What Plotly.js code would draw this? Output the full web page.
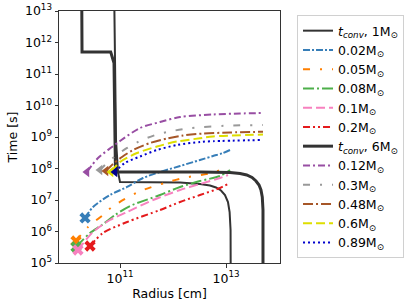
<!DOCTYPE html>
<html><head><meta charset="utf-8">
<script src="https://cdn.plot.ly/plotly-3.0.1.min.js"></script>
<style>html,body{margin:0;padding:0;background:#fff;}#chart{width:415px;height:306px;}</style>
</head><body><div id="chart"></div>
<script>
// t_conv curves
const conv1M_R = [7.71e10, 8.41e10, 9.17e10, 1.0e11, 1.36e12, 3.23e12, 4.99e12, 6.47e12, 8.05e12, 9.57e12, 1.09e13, 1.17e13, 1.22e13, 1.23e13];
const conv1M_t = [1e14, 8.03e8, 7.75e7, 3.73e7, 3.60e7, 3.22e7, 2.88e7, 2.50e7, 2.00e7, 1.44e7, 8.64e6, 4.16e6, 1.12e6, 1e4];
const conv6M_R = [1.89e10, 1.92e10, 6.68e10, 7.71e10, 8.05e10, 8.22e10, 3.23e12, 1.19e13, 1.84e13, 2.46e13, 3.10e13, 3.68e13, 4.20e13, 4.57e13, 4.84e13, 4.99e13, 4.99e13];
const conv6M_t = [1e14, 4.99e11, 4.99e11, 2.23e11, 8.03e8, 7.75e7, 7.75e7, 7.46e7, 6.93e7, 6.22e7, 5.18e7, 4.01e7, 2.99e7, 2.08e7, 1.24e7, 4.82e6, 1e4];

// 1 Msun group
const m002_R = [2.19e10, 3.10e10, 6.47e10, 1.36e11, 2.72e11, 5.69e11, 1.36e12, 3.23e12, 5.69e12, 8.77e12, 1.19e13];
const m002_t = [2.69e6, 6.00e6, 1.44e7, 2.59e7, 4.99e7, 7.75e7, 1.20e8, 1.86e8, 2.49e8, 3.10e8, 3.87e8];
const m005_R = [1.48e10, 2.49e10, 4.78e10, 7.06e10, 2.19e11, 8.05e11, 1.55e12, 6.20e12, 1.04e13];
const m005_t = [4.99e5, 1.39e6, 3.34e6, 6.00e6, 1.79e7, 3.73e7, 4.99e7, 7.75e7, 1.20e8];
const m008_R = [1.48e10, 2.72e10, 4.57e10, 8.05e10, 1.55e11, 5.69e11, 1.36e12, 3.23e12, 7.71e12, 1.19e13];
const m008_t = [3.22e5, 8.96e5, 1.61e6, 3.34e6, 6.46e6, 1.44e7, 2.59e7, 4.01e7, 5.78e7, 8.96e7];
const m01_R = [1.61e10, 3.10e10, 6.47e10, 1.36e11, 4.20e11, 1.36e12, 3.23e12, 7.71e12, 1.09e13];
const m01_t = [2.59e5, 9.64e5, 2.32e6, 4.16e6, 1.0e7, 2.08e7, 3.22e7, 4.99e7, 6.22e7];
const m02_R = [2.72e10, 4.78e10, 1.36e11, 5.69e11, 1.36e12, 3.23e12, 7.71e12, 1.09e13];
const m02_t = [3.47e5, 8.96e5, 2.00e6, 4.82e6, 8.64e6, 1.44e7, 2.41e7, 3.22e7];

// 6 Msun group
const m012_R = [2.38e10, 3.85e10, 7.06e10, 1.0e11, 2.38e11, 5.69e11, 1.36e12, 5.69e12, 1.84e13, 4.99e13];
const m012_t = [7.75e7, 2.15e8, 4.82e8, 7.47e8, 1.93e9, 2.99e9, 4.31e9, 5.18e9, 5.57e9, 5.78e9];
const m03_R = [4.20e10, 5.94e10, 9.17e10, 1.36e11, 2.60e11, 4.99e11, 8.77e11, 1.84e12, 3.68e12, 1.36e13, 4.99e13];
const m03_t = [8.96e7, 1.61e8, 2.88e8, 4.48e8, 8.03e8, 1.20e9, 1.50e9, 1.86e9, 2.08e9, 2.32e9, 2.40e9];
const m048_R = [5.44e10, 7.38e10, 1.09e11, 1.76e11, 3.68e11, 7.71e11, 1.55e12, 3.68e12, 1.19e13, 4.99e13];
const m048_t = [8.33e7, 1.39e8, 2.32e8, 3.87e8, 6.45e8, 8.96e8, 1.12e9, 1.29e9, 1.39e9, 1.47e9];
const m06_R = [6.76e10, 1.0e11, 2.09e11, 4.99e11, 1.19e12, 3.23e12, 5.69e12, 4.99e13];
const m06_t = [7.75e7, 1.61e8, 3.10e8, 4.99e8, 7.20e8, 9.10e8, 1.04e9, 1.20e9];
const m089_R = [8.05e10, 1.24e11, 2.38e11, 4.99e11, 1.19e12, 3.23e12, 5.69e12, 4.99e13];
const m089_t = [7.75e7, 1.50e8, 2.40e8, 3.87e8, 5.57e8, 6.94e8, 7.36e8, 8.03e8];

const xTickVals = [1e11, 1e13];
const xTickText = ['10<sup>11</sup>', '10<sup>13</sup>'];
const yTickVals = [1e5, 1e6, 1e7, 1e8, 1e9, 1e10, 1e11, 1e12, 1e13];
const yTickText = ['10<sup>5</sup>', '10<sup>6</sup>', '10<sup>7</sup>', '10<sup>8</sup>', '10<sup>9</sup>', '10<sup>10</sup>', '10<sup>11</sup>', '10<sup>12</sup>', '10<sup>13</sup>'];

const SUN = '<sub>\u2299</sub>';
const traces = [];
function conv(R, t, name, w) {
  traces.push({x: R, y: t, mode: 'lines', name: name, line: {color: '#333333', width: w}});
}
function series(R, t, name, color, dash, sym, mcolor) {
  traces.push({x: R, y: t, mode: 'lines', name: name, line: {color: color, width: 2, dash: dash, shape: 'spline', smoothing: 0.8}});
  traces.push({x: [R[0]], y: [t[0]], mode: 'markers', showlegend: false, hoverinfo: 'skip',
    marker: {symbol: sym, size: sym === 'x' ? 10 : 9, color: mcolor || color, line: {width: 0}}});
}
conv(conv1M_R, conv1M_t, '<i>t<sub>conv</sub></i>, 1M' + SUN, 2);
series(m002_R, m002_t, '0.02M' + SUN, '#377eb8', '7px,2px,2px,2px', 'x');
series(m005_R, m005_t, '0.05M' + SUN, '#ff7f00', '7px,10px,2px,10px', 'x');
series(m008_R, m008_t, '0.08M' + SUN, '#4daf4a', '11px,3px,2px,3px', 'x');
series(m01_R, m01_t, '0.1M' + SUN, '#f781bf', '9px,4px', 'x');
series(m02_R, m02_t, '0.2M' + SUN, '#e41a1c', '7px,3px,2px,3px,2px,3px', 'x');
conv(conv6M_R, conv6M_t, '<i>t<sub>conv</sub></i>, 6M' + SUN, 3);
series(m012_R, m012_t, '0.12M' + SUN, '#984ea3', '7px,3px,2px,3px', 'triangle-left');
series(m03_R, m03_t, '0.3M' + SUN, '#999999', '7px,10px,2px,10px', 'triangle-left');
series(m048_R, m048_t, '0.48M' + SUN, '#a65628', '10px,3px,2px,3px', 'triangle-left');
series(m06_R, m06_t, '0.6M' + SUN, '#dede00', '9px,4px', 'triangle-left');
series(m089_R, m089_t, '0.89M' + SUN, '#0000cd', '2px,3px', 'triangle-left', '#00008b');

const font = {family: 'DejaVu Sans, sans-serif', size: 12.5, color: '#000'};
const layout = {
  width: 415, height: 306,
  margin: {l: 59, r: 135, t: 11, b: 43},
  paper_bgcolor: '#fff', plot_bgcolor: '#fff',
  font: font,
  showlegend: true,
  xaxis: {type: 'log', range: [9.849, 14.019], tickvals: xTickVals, ticktext: xTickText,
    showgrid: false, zeroline: false, showline: true, mirror: true, linecolor: '#333', linewidth: 1,
    ticks: 'outside', ticklen: 3.5, tickcolor: '#333', tickfont: font,
    title: {text: 'Radius [cm]', font: font, standoff: 4}},
  yaxis: {type: 'log', range: [5, 13], tickvals: yTickVals, ticktext: yTickText,
    showgrid: false, zeroline: false, showline: true, mirror: true, linecolor: '#333', linewidth: 1,
    ticks: 'outside', ticklen: 3.5, tickcolor: '#333', tickfont: font,
    title: {text: 'Time [s]', font: font, standoff: 4}},
  legend: {x: 1.077, y: 0.984, xanchor: 'left', yanchor: 'top', bgcolor: '#fff',
    bordercolor: '#d0d0d0', borderwidth: 1, font: font, tracegroupgap: 0,
    entrywidth: 72, entrywidthmode: 'pixels'}
};
Plotly.newPlot('chart', traces, layout, {staticPlot: true, displayModeBar: false});
</script></body></html>
